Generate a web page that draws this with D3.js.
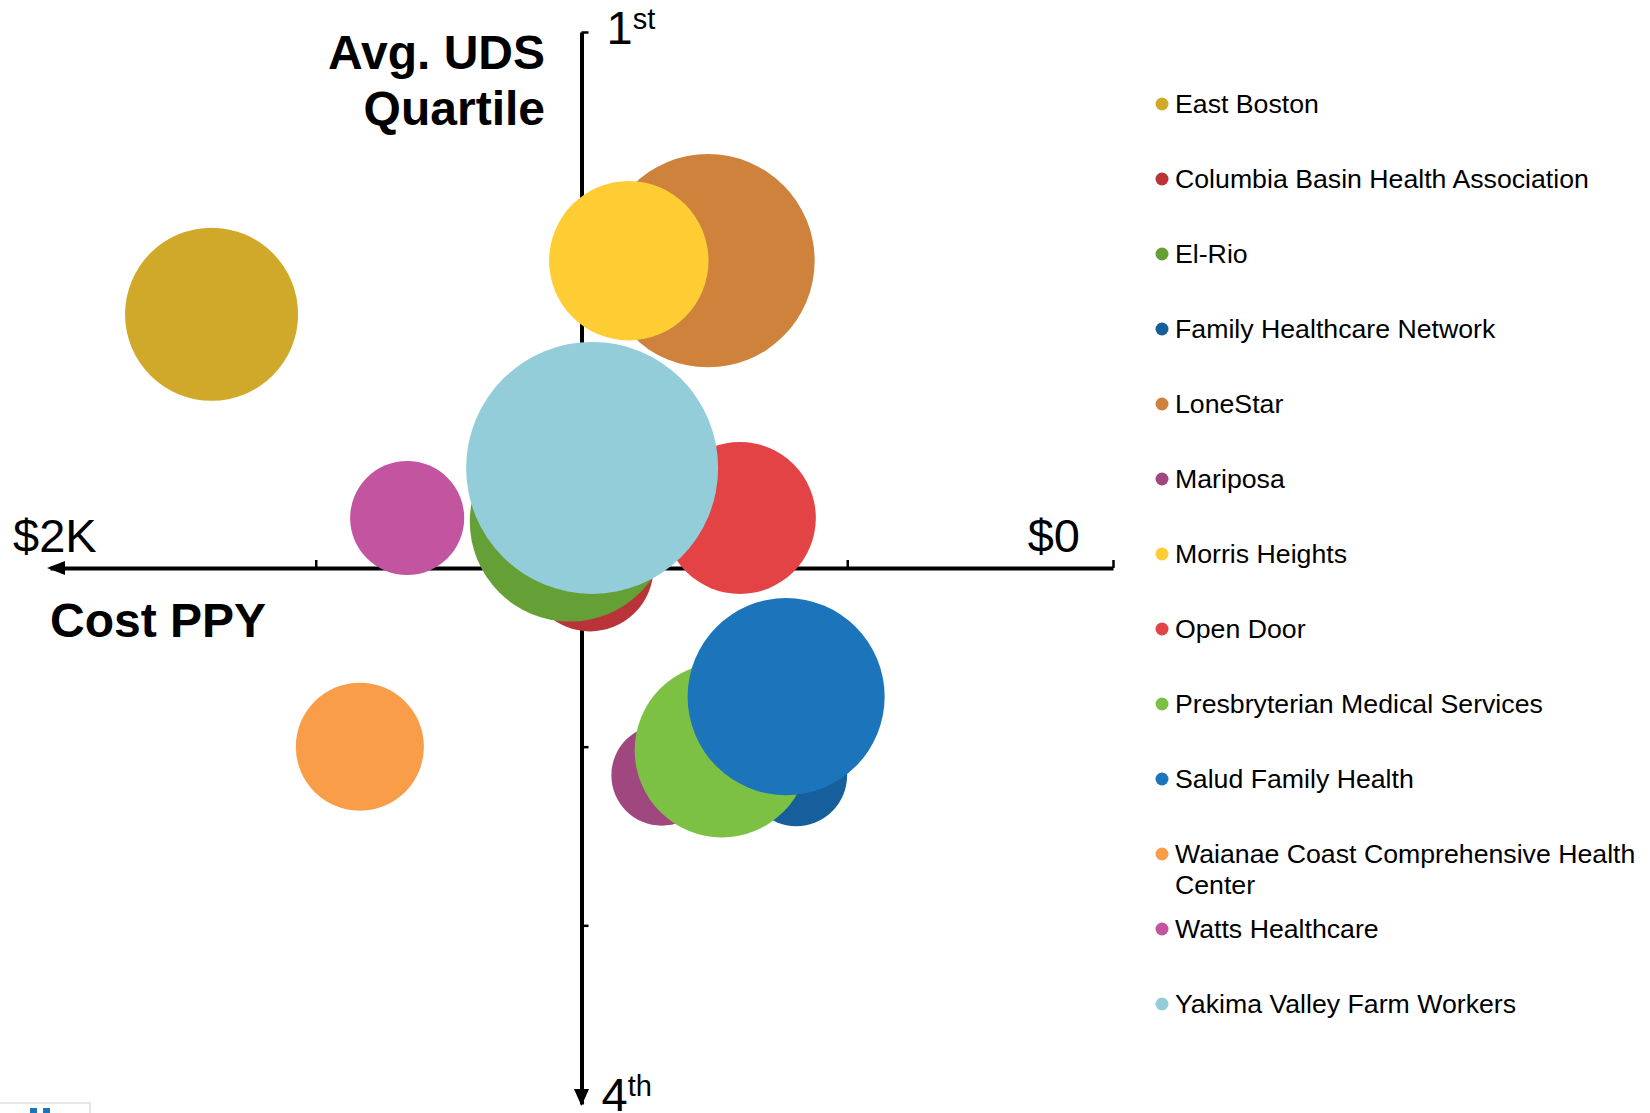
<!DOCTYPE html>
<html>
<head>
<meta charset="utf-8">
<script src="https://d3js.org/d3.v7.min.js"></script>
<style>
    body { margin: 0; background: #fff; }
    svg { display: block; font-family: "Liberation Sans", Arial, sans-serif; }
</style>
</head>
<body>
<svg id="chart" width="1650" height="1113"></svg>
<script>
    // health centers, in legend (and drawing) order
    const centers = [
        'East Boston',
        'Columbia Basin Health Association',
        'El-Rio',
        'Family Healthcare Network',
        'LoneStar',
        'Mariposa',
        'Morris Heights',
        'Open Door',
        'Presbryterian Medical Services',
        'Salud Family Health',
        'Waianae Coast Comprehensive Health Center',
        'Watts Healthcare',
        'Yakima Valley Farm Workers'
    ];
    // cost per patient per year ($)
    const costPPY = [1696, 984, 1022, 596, 762, 849, 911, 702, 736, 615, 1417, 1328, 980];
    // average UDS quartile (1st = best)
    const udsQuartile = [1.79, 2.50, 2.37, 3.08, 1.64, 3.08, 1.64, 2.36, 3.01, 2.86, 3.00, 2.36, 2.22];
    // bubble size (relative patient volume)
    const patients = [28.3, 15.2, 37.8, 9.8, 43.0, 9.6, 24.0, 21.8, 28.7, 36.7, 15.5, 12.3, 60.0];
    const colors = ['#d1a92a', '#b93338', '#65a036', '#165f9c', '#ce823c', '#a0477f', '#fecc33',
        '#e44346', '#7cc143', '#1c75bb', '#f99d48', '#c355a0', '#93cdda'];

    const xTicks = [2000, 1500, 1000, 500, 0];
    const yTicks = [1, 1.5, 2, 2.5, 3, 3.5];

    const rows = centers.map((name, i) => ({
        name, cost: costPPY[i], q: udsQuartile[i], size: patients[i], color: colors[i]
    }));

    const svg = d3.select('#chart');

    const x = d3.scaleLinear().domain([2000, 0]).range([50, 1113]);
    const y = d3.scaleLinear().domain([1, 4]).range([32, 1104]);
    const r = d3.scaleSqrt().domain([0, 60]).range([0, 126]);

    const cx = x(1000), cy = y(2.5);

    // horizontal axis (cost), ticks pointing up
    const gx = svg.append('g')
        .attr('transform', `translate(0,${cy})`)
        .call(d3.axisTop(x).tickValues(xTicks.slice(1)).tickSize(8).tickSizeOuter(0).tickFormat(''));
    gx.select('.domain').attr('stroke', '#000').attr('stroke-width', 4);
    gx.selectAll('.tick line').attr('stroke', '#000').attr('stroke-width', 2.5);
    gx.append('path')
        .attr('d', `M${x(2000) - 3},0 L${x(2000) + 15},-7 L${x(2000) + 15},7 Z`)
        .attr('fill', '#000');

    // vertical axis (quartile), ticks pointing right
    const gy = svg.append('g')
        .attr('transform', `translate(${cx},0)`)
        .call(d3.axisRight(y).tickValues(yTicks).tickSize(7).tickSizeOuter(0).tickFormat(''));
    gy.select('.domain').attr('stroke', '#000').attr('stroke-width', 4);
    gy.selectAll('.tick line').attr('stroke', '#000').attr('stroke-width', 2.5);
    gy.append('path')
        .attr('d', `M0,${y(4) + 2} L-7.5,${y(4) - 15} L7.5,${y(4) - 15} Z`)
        .attr('fill', '#000');

    // axis end labels
    svg.append('text').attr('x', x(2000) - 37).attr('y', cy - 16)
        .attr('font-size', 47).text('$2K');
    svg.append('text').attr('x', x(0) - 33).attr('y', cy - 16)
        .attr('text-anchor', 'end').attr('font-size', 47).text('$0');

    const t1 = svg.append('text').attr('x', cx + 25).attr('y', 44).attr('font-size', 47);
    t1.append('tspan').text('1');
    t1.append('tspan').attr('font-size', 29).attr('dy', -15).text('st');

    const t4 = svg.append('text').attr('x', cx + 20).attr('y', 1111).attr('font-size', 47);
    t4.append('tspan').text('4');
    t4.append('tspan').attr('font-size', 29).attr('dy', -15).text('th');

    // axis titles
    const yt = svg.append('text').attr('text-anchor', 'end').attr('font-weight', 'bold')
        .attr('font-size', 48);
    yt.append('tspan').attr('x', 545).attr('y', 69).text('Avg. UDS');
    yt.append('tspan').attr('x', 545).attr('y', 125).text('Quartile');

    svg.append('text').attr('x', 50).attr('y', 637).attr('font-weight', 'bold')
        .attr('font-size', 48).text('Cost PPY');

    // bubbles
    svg.append('g').selectAll('circle')
        .data(rows)
        .join('circle')
        .attr('cx', d => x(d.cost))
        .attr('cy', d => y(d.q))
        .attr('r', d => r(d.size))
        .attr('fill', d => d.color);

    // legend
    const legend = svg.append('g').attr('transform', 'translate(1162,104)');
    const item = legend.selectAll('g')
        .data(rows)
        .join('g')
        .attr('transform', (d, i) => `translate(0,${i * 75})`);
    item.append('circle').attr('r', 6.5).attr('fill', d => d.color);
    item.append('text')
        .attr('x', 13)
        .attr('y', 9)
        .attr('font-size', 26.7)
        .attr('fill', '#000')
        .each(function (d) {
            const el = d3.select(this);
            const words = d.name.split(' ');
            let line = [];
            let ts = el.append('tspan').attr('x', 13);
            words.forEach(w => {
                line.push(w);
                ts.text(line.join(' '));
                if (ts.node().getComputedTextLength() > 472 && line.length > 1) {
                    line.pop();
                    ts.text(line.join(' '));
                    line = [w];
                    ts = el.append('tspan').attr('x', 13).attr('dy', 30.5).text(w);
                }
            });
        });

    // cropped slide footer fragment, bottom left
    svg.append('rect').attr('x', -2).attr('y', 1103).attr('width', 92).attr('height', 20)
        .attr('fill', 'none').attr('stroke', '#cfcfcf').attr('stroke-width', 1);
    svg.append('rect').attr('x', 30).attr('y', 1108).attr('width', 7).attr('height', 6).attr('fill', '#1c75bb');
    svg.append('rect').attr('x', 43).attr('y', 1108).attr('width', 7).attr('height', 6).attr('fill', '#1c75bb');
</script>
</body>
</html>
